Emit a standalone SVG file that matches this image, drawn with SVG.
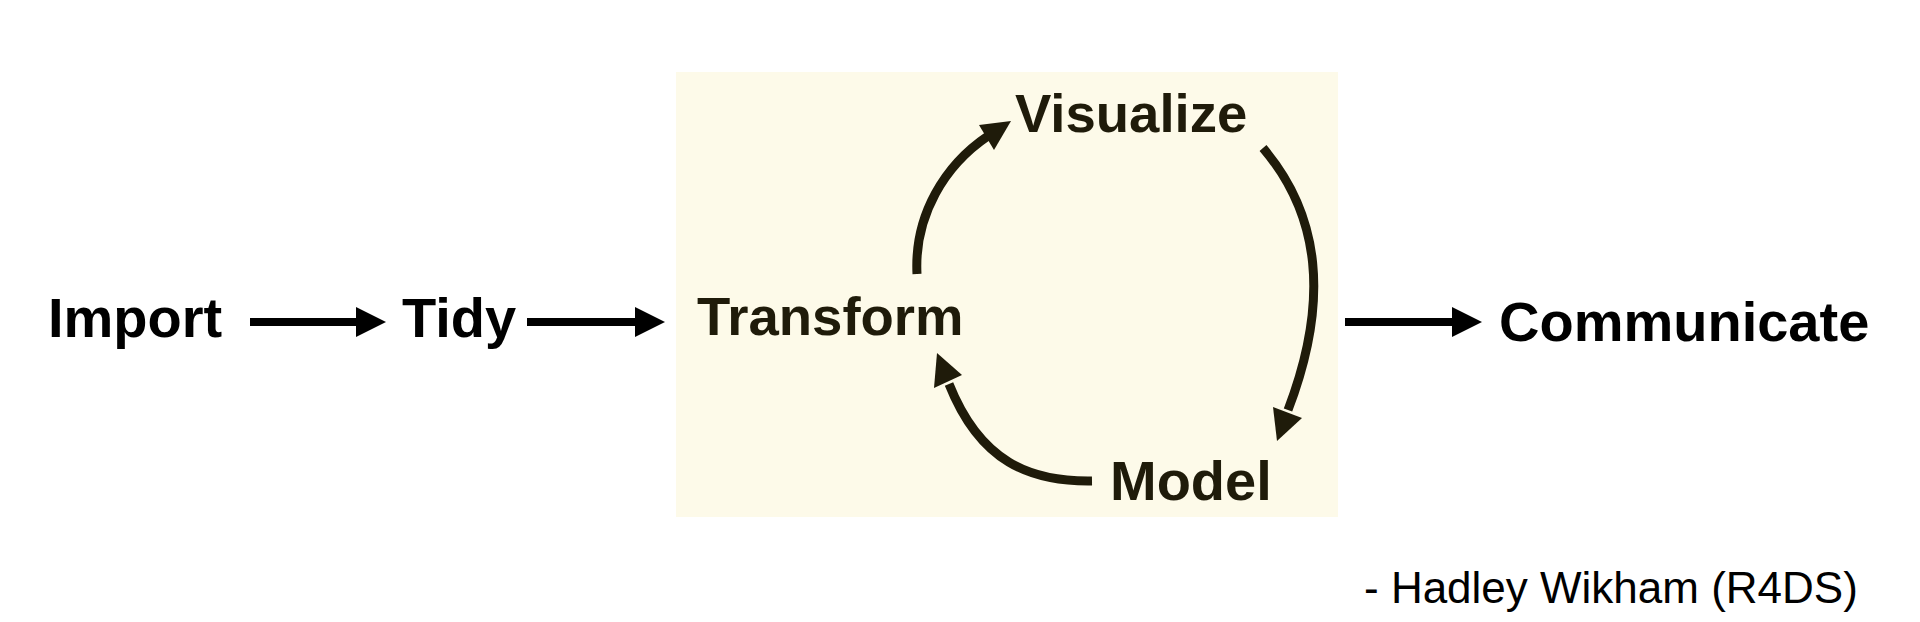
<svg xmlns="http://www.w3.org/2000/svg" width="1920" height="622" viewBox="0 0 1920 622">
<style>
.lbl{font-family:"Liberation Sans",Arial,Helvetica,sans-serif;font-weight:bold;font-size:56px;fill:#000}
.in{font-size:54.5px;fill:#1f1b0a}
.quote{font-family:"Liberation Sans",Arial,Helvetica,sans-serif;font-size:44px;fill:#000}
.ln{stroke:#000;stroke-width:8;fill:none}
.hd{fill:#000}
.cln{stroke:#1f1b0a;stroke-width:9;fill:none}
.chd{fill:#1f1b0a}
</style>
<rect width="1920" height="622" fill="#ffffff"/>
<rect id="cycle-box" x="676" y="72" width="662" height="445" fill="#fdfae9"/>
<g id="import"><text class="lbl" x="48" y="337">Import</text></g>
<g id="tidy"><text class="lbl" x="402" y="337">Tidy</text></g>
<g id="transform"><text class="lbl in" x="697" y="335">Transform</text></g>
<g id="visualize"><text class="lbl in" x="1015" y="132">Visualize</text></g>
<g id="model"><text class="lbl in" x="1110" y="500" style="font-size:56px">Model</text></g>
<g id="communicate"><text class="lbl" x="1499" y="341">Communicate</text></g>
<g id="quote"><text class="quote" x="1364" y="603">- Hadley Wikham (R4DS)</text></g>
<g id="connectors">
<line class="ln" x1="250" y1="322" x2="358" y2="322"/>
<polygon class="hd" points="356,307 386,322 356,337"/>
<line class="ln" x1="527" y1="322" x2="637" y2="322"/>
<polygon class="hd" points="635,307 665,322 635,337"/>
<line class="ln" x1="1345" y1="322" x2="1454" y2="322"/>
<polygon class="hd" points="1452,307 1482,322 1452,337"/>
<path class="cln" d="M917 274 C914 215 945 165 988 136"/>
<polygon class="chd" points="979,125 1011,121 994,150"/>
<path class="cln" d="M1263 148 C1320 215 1330 300 1288 410"/>
<polygon class="chd" points="1273,407 1302,418 1277,441"/>
<path class="cln" d="M1092 481 C1030 482 980 462 949 384"/>
<polygon class="chd" points="934,388 937,353 962,375"/>
</g>
</svg>
